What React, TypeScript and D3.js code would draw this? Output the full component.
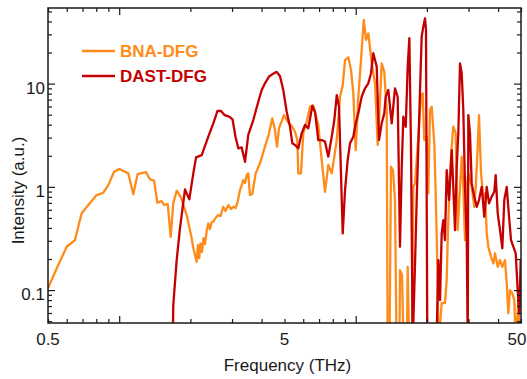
import { useEffect, useRef } from "react";
import * as d3 from "d3";

// BNA-DFG spectrum (frequency in THz, intensity in a.u.)
const bnaFreq = [
  0.50, 0.544, 0.600, 0.650, 0.694, 0.740, 0.803, 0.857, 0.899, 0.951,
  1.00, 1.093, 1.147, 1.197, 1.298, 1.350, 1.404, 1.450, 1.513, 1.547,
  1.604, 1.651, 1.693, 1.750, 1.820, 1.929, 2.026, 2.058, 2.127, 2.153,
  2.181, 2.207, 2.239, 2.272, 2.306, 2.344, 2.381, 2.421, 2.461, 2.500,
  2.554, 2.624, 2.681, 2.755, 2.815, 2.893, 2.970, 3.037, 3.102, 3.169,
  3.241, 3.289, 3.347, 3.404, 3.461, 3.514, 3.573, 3.654, 3.777, 3.938,
  4.135, 4.300, 4.440, 4.558, 4.647, 4.739, 4.976, 5.156, 5.364, 5.539,
  5.664, 5.719, 5.871, 6.004, 6.206, 6.408, 6.618, 6.774, 6.948, 7.182,
  7.417, 7.660, 7.918, 8.122, 8.314, 8.586, 8.815, 9.015, 9.308, 9.556,
  9.772, 10.00, 10.26, 10.53, 10.82, 11.06, 11.31, 11.69, 12.07, 12.39,
  12.67, 12.88, 13.21, 13.52, 13.65, 13.90, 14.10, 14.38, 14.66, 14.88,
  15.32, 15.39, 15.70, 15.93, 16.48, 16.59, 16.80, 17.30, 17.52, 17.82,
  18.40, 18.89, 19.21, 19.50, 19.96, 20.28, 20.61, 20.96, 21.50, 21.79,
  22.07, 22.40, 23.10, 23.85, 24.25, 24.56, 25.05, 25.41, 25.86, 26.47,
  26.99, 28.07, 28.51, 28.99, 29.48, 29.94, 30.94, 31.73, 32.18, 32.81,
  33.22, 33.88, 34.65, 35.23, 35.81, 36.37, 37.34, 38.19, 38.83, 39.86,
  40.75, 41.69, 42.79, 43.51, 44.19, 44.93, 45.94, 46.85, 47.49, 48.70,
  49.52,
];
const bnaInt = [
  0.104, 0.162, 0.263, 0.305, 0.554, 0.667, 0.833, 0.877, 1.04, 1.40,
  1.49, 1.35, 0.846, 1.33, 1.39, 1.18, 1.15, 0.701, 0.728, 0.667,
  0.681, 0.328, 0.692, 0.917, 0.802, 0.533, 0.317, 0.254, 0.188, 0.273,
  0.204, 0.284, 0.234, 0.319, 0.279, 0.373, 0.443, 0.390, 0.456, 0.459,
  0.499, 0.533, 0.521, 0.641, 0.583, 0.667, 0.609, 0.641, 0.623, 0.717,
  0.931, 1.02, 1.16, 1.09, 1.30, 1.35, 0.833, 0.852, 1.35, 1.69,
  2.45, 3.30, 4.61, 3.55, 2.45, 3.69, 4.96, 4.27, 3.88, 3.42,
  2.84, 1.35, 1.35, 3.30, 4.27, 5.97, 6.16, 4.96, 3.97, 1.82,
  0.896, 1.63, 1.35, 1.96, 2.84, 7.46, 9.69, 16.9, 18.0, 13.5,
  8.05, 2.27, 7.46, 16.9, 41.3, 26.5, 30.7, 15.7, 10.07, 2.54,
  6.93, 15.7, 13.0, 5.55, 0.03, 0.03, 1.57, 1.45, 0.745, 0.03,
  0.03, 0.156, 0.140, 0.03, 0.03, 0.168, 0.03, 0.03, 1.00, 1.08,
  3.06, 7.46, 8.05, 2.84, 3.06, 0.865, 5.55, 5.97, 2.64, 0.865,
  0.244, 0.03, 0.0748, 0.0748, 0.125, 0.381, 1.36, 2.27, 3.82, 3.32,
  0.381, 1.96, 1.00, 0.305, 1.00, 1.35, 1.00, 0.641, 1.00, 2.45,
  4.96, 1.35, 0.802, 0.865, 0.357, 0.263, 0.210, 0.181, 0.227, 0.168,
  0.195, 0.168, 0.195, 0.116, 0.0594, 0.100, 0.0929, 0.080, 0.03, 0.080,
  0.03,
];

// DAST-DFG spectrum
const dastFreq = [
  1.684, 1.693, 1.750, 1.807, 1.898, 1.979, 2.058, 2.113, 2.233, 2.381,
  2.500, 2.604, 2.694, 2.788, 2.921, 3.014, 3.102, 3.189, 3.296, 3.404,
  3.514, 3.690, 3.874, 4.005, 4.135, 4.300, 4.440, 4.634, 4.786, 4.941,
  5.108, 5.276, 5.396, 5.539, 5.719, 5.910, 6.104, 6.303, 6.555, 6.729,
  6.948, 7.182, 7.417, 7.660, 7.918, 8.122, 8.314, 8.502, 8.815, 9.015,
  9.250, 9.462, 9.772, 10.00, 10.26, 10.60, 10.95, 11.31, 11.61, 11.87,
  12.27, 12.55, 12.88, 13.21, 13.39, 13.74, 14.20, 14.66, 15.05, 15.39,
  15.66, 15.90, 16.28, 16.59, 16.86, 17.14, 17.42, 17.82, 18.11, 18.40,
  18.71, 19.01, 19.32, 19.64, 19.83, 20.08, 21.97, 22.36, 22.73, 23.10,
  23.47, 23.85, 24.25, 24.82, 25.47, 25.86, 26.30, 26.74, 27.16, 27.61,
  28.07, 28.51, 28.99, 29.48, 29.77, 29.94, 30.43, 30.94, 31.73, 32.49,
  33.22, 34.11, 34.98, 35.81, 36.62, 37.58, 38.55, 39.08, 39.86, 40.75,
  41.69, 42.50, 43.51, 44.50, 45.37, 46.39, 47.49, 48.41, 49.17, 49.85,
];
const dastInt = [
  0.03, 0.0716, 0.195, 0.396, 0.946, 0.757, 1.35, 1.93, 2.03, 3.06,
  4.12, 5.43, 5.43, 4.96, 4.78, 4.51, 3.06, 2.36, 2.41, 1.75,
  3.18, 4.44, 6.68, 8.67, 10.07, 11.7, 12.3, 13.0, 11.8, 8.67,
  5.34, 3.82, 2.64, 2.54, 2.36, 3.30, 3.97, 3.69, 6.07, 5.34,
  2.84, 2.84, 2.74, 1.96, 3.06, 4.44, 7.75, 5.97, 0.354, 0.931,
  1.82, 2.64, 3.06, 4.12, 5.15, 7.46, 9.01, 10.07, 12.6, 19.7,
  14.6, 2.84, 4.12, 5.15, 7.46, 8.67, 4.12, 9.01, 7.46, 0.263,
  1.57, 4.78, 3.82, 14.6, 27.5, 2.27, 0.03, 0.181, 0.745, 2.45,
  8.67, 28.5, 35.6, 42.9, 33.1, 0.03, 0.03, 0.195, 0.080, 0.354,
  0.477, 0.305, 1.45, 0.745, 2.27, 1.00, 0.381, 1.57, 3.30, 15.7,
  12.6, 5.55, 1.00, 0.305, 0.03, 4.96, 3.30, 1.08, 0.802, 0.641,
  0.745, 1.00, 0.513, 1.00, 0.692, 0.802, 0.896, 1.30, 0.554, 0.381,
  0.254, 0.745, 1.00, 0.513, 0.305, 0.263, 0.227, 0.100, 0.0594, 0.195,
];

const seriesNames = ["BNA-DFG", "DAST-DFG"];
const xTickLabels = [0.5, 5, 50];
const yTickLabels = [0.1, 1, 10];

const width = 527;
const height = 379;
const margin = { left: 48, right: 6, top: 8, bottom: 56 };
const font = "'Liberation Sans', Arial, sans-serif";
const colors = ["#ff8c1a", "#c40000"];

const SpectrumChart = () => {
  const svgRef = useRef<SVGSVGElement>(null);

  useEffect(() => {
    const svg = d3.select(svgRef.current);
    svg.selectAll("*").remove(); // clear

    const x = d3
      .scaleLog()
      .domain([0.5, 50])
      .range([margin.left, width - margin.right]);
    const y = d3
      .scaleLog()
      .domain([0.048, 54])
      .range([height - margin.bottom, margin.top]);

    const [x0, x1] = x.range();
    const [y0, y1] = y.range();

    svg
      .append("defs")
      .append("clipPath")
      .attr("id", "plot-clip")
      .append("rect")
      .attr("x", x0)
      .attr("y", y1)
      .attr("width", x1 - x0)
      .attr("height", y0 - y1);

    // spectra
    const series = [
      { name: seriesNames[0], color: colors[0], pts: d3.zip(bnaFreq, bnaInt) },
      { name: seriesNames[1], color: colors[1], pts: d3.zip(dastFreq, dastInt) },
    ];
    const line = d3
      .line<number[]>()
      .x((d) => x(d[0]))
      .y((d) => y(d[1]));

    svg
      .append("g")
      .attr("clip-path", "url(#plot-clip)")
      .selectAll("path")
      .data(series)
      .join("path")
      .attr("fill", "none")
      .attr("stroke", (d) => d.color)
      .attr("stroke-width", 2.3)
      .attr("stroke-linejoin", "round")
      .attr("d", (d) => line(d.pts));

    // inward ticks on all four sides
    const isDecade = (v: number) =>
      Math.abs(Math.log10(v) - Math.round(Math.log10(v))) < 1e-6;
    const xt = x.ticks();
    const yt = y.ticks();
    const blank = () => "";
    const tickGroups = [
      { axis: d3.axisBottom(x), vals: xt, t: `translate(0,${y0})` },
      { axis: d3.axisTop(x), vals: xt, t: `translate(0,${y1})` },
      { axis: d3.axisLeft(y), vals: yt, t: `translate(${x0},0)` },
      { axis: d3.axisRight(y), vals: yt, t: `translate(${x1},0)` },
    ];
    tickGroups.forEach(({ axis, vals, t }) => {
      [false, true].forEach((major) => {
        const g = svg
          .append("g")
          .attr("transform", t)
          .call(
            axis
              .tickValues(vals.filter((v) => isDecade(v) === major))
              .tickSize(major ? -7 : -4)
              .tickSizeOuter(0)
              .tickFormat(blank)
          );
        g.select(".domain").remove();
        g.selectAll("text").remove();
        g.selectAll("line").attr("stroke", "#1a1a1a").attr("stroke-width", 1.2);
      });
    });

    // frame
    svg
      .append("rect")
      .attr("x", x0)
      .attr("y", y1)
      .attr("width", x1 - x0)
      .attr("height", y0 - y1)
      .attr("fill", "none")
      .attr("stroke", "#1a1a1a")
      .attr("stroke-width", 1.5);

    // tick labels
    svg
      .append("g")
      .selectAll("text")
      .data(xTickLabels)
      .join("text")
      .attr("x", (d) => Math.min(x(d), width - 10))
      .attr("y", y0 + 22)
      .attr("text-anchor", "middle")
      .attr("font-family", font)
      .attr("font-size", 17)
      .attr("fill", "#1a1a1a")
      .text((d) => String(d));

    svg
      .append("g")
      .selectAll("text")
      .data(yTickLabels)
      .join("text")
      .attr("x", x0 - 3)
      .attr("y", (d) => y(d) + 10)
      .attr("text-anchor", "end")
      .attr("font-family", font)
      .attr("font-size", 17)
      .attr("fill", "#1a1a1a")
      .text((d) => String(d));

    // axis titles
    svg
      .append("text")
      .attr("x", (x0 + x1) / 2 + 3)
      .attr("y", height - 8)
      .attr("text-anchor", "middle")
      .attr("font-family", font)
      .attr("font-size", 17)
      .attr("fill", "#1a1a1a")
      .text("Frequency (THz)");

    svg
      .append("text")
      .attr("transform", `translate(24,${(y0 + y1) / 2 + 25}) rotate(-90)`)
      .attr("text-anchor", "middle")
      .attr("font-family", font)
      .attr("font-size", 17)
      .attr("fill", "#1a1a1a")
      .text("Intensity (a.u.)");

    // legend
    const legend = svg
      .append("g")
      .selectAll("g")
      .data(series)
      .join("g")
      .attr("transform", (_, i) => `translate(82,${51 + i * 25})`);
    legend
      .append("line")
      .attr("x1", 0)
      .attr("x2", 33)
      .attr("stroke", (d) => d.color)
      .attr("stroke-width", 2.3);
    legend
      .append("text")
      .attr("x", 38)
      .attr("y", 6)
      .attr("font-family", font)
      .attr("font-size", 17)
      .attr("font-weight", "bold")
      .attr("fill", (d) => d.color)
      .text((d) => d.name);
  }, []);

  return (
    <svg
      ref={svgRef}
      width={width}
      height={height}
      style={{ position: "absolute", left: 0, top: 0, background: "#fff" }}
    ></svg>
  );
};

export default function App() {
  return <SpectrumChart />;
}
